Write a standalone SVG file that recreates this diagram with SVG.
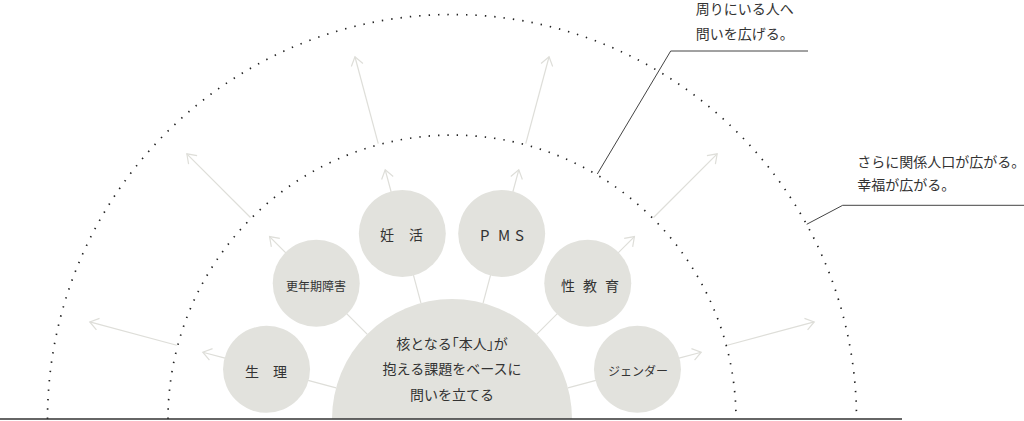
<svg xmlns="http://www.w3.org/2000/svg" width="1024" height="421" viewBox="0 0 1024 421">
  <defs>
    <marker id="arr" markerUnits="userSpaceOnUse" markerWidth="20" markerHeight="20" viewBox="-12 -10 14 20" refX="0" refY="0" orient="auto">
      <path d="M -8.5 -6 L 0 0 L -8.5 6" fill="none" stroke="#deded9" stroke-width="1.2"/>
    </marker>
    <style>
      .bub { fill: #e2e2dd; }
      .ray { stroke: #deded9; stroke-width: 1.2; fill: none; }
      .ar { marker-end: url(#arr); }
      .dots { fill: none; stroke: #222; stroke-width: 1.7; stroke-dasharray: 1.5 8.5; }
      .call { fill: none; stroke: #444; stroke-width: 1; }
      text { font-family: "Noto Sans CJK JP", "Noto Sans", sans-serif; fill: #333; }
      .t14 { font-size: 14px; }
      .t12 { font-size: 12px; }
      .mid { text-anchor: middle; }
      .halt { font-feature-settings: "halt"; }
    </style>
  </defs>
  <rect width="1024" height="421" fill="#ffffff"/>

  <g id="rings">
    <path class="dots" pathLength="950" d="M 168 419 A 284 284 0 0 1 736 419"/>
    <path class="dots" pathLength="1350" d="M 47.5 419 A 404.5 404.5 0 0 1 856.5 419"/>
  </g>

  <g id="connectors">
    <!-- core to bubbles -->
    <line class="ray" x1="336.09" y1="387.94" x2="308.08" y2="380.44"/>
    <line class="ray" x1="367.15" y1="334.15" x2="346.64" y2="313.64"/>
    <line class="ray" x1="420.94" y1="303.09" x2="413.44" y2="275.08"/>
    <line class="ray" x1="483.06" y1="303.09" x2="490.56" y2="275.08"/>
    <line class="ray" x1="536.85" y1="334.15" x2="557.36" y2="313.64"/>
    <line class="ray" x1="567.91" y1="387.94" x2="595.92" y2="380.44"/>
    <!-- bubbles outward -->
    <line class="ray ar" x1="225.01" y1="358.18" x2="202.79" y2="352.22"/>
    <line class="ray ar" x1="285.83" y1="252.83" x2="269.57" y2="236.57"/>
    <line class="ray ar" x1="391.18" y1="192.01" x2="385.22" y2="169.79"/>
    <line class="ray ar" x1="512.82" y1="192.01" x2="518.78" y2="169.79"/>
    <line class="ray ar" x1="618.17" y1="252.83" x2="634.43" y2="236.57"/>
    <line class="ray ar" x1="678.99" y1="358.18" x2="701.21" y2="352.22"/>
    <!-- inner ring outward -->
    <line class="ray ar" x1="176.71" y1="345.24" x2="89.78" y2="321.94"/>
    <line class="ray ar" x1="250.47" y1="217.47" x2="186.83" y2="153.83"/>
    <line class="ray ar" x1="378.24" y1="143.71" x2="354.94" y2="56.78"/>
    <line class="ray ar" x1="525.76" y1="143.71" x2="549.06" y2="56.78"/>
    <line class="ray ar" x1="653.53" y1="217.47" x2="717.17" y2="153.83"/>
    <line class="ray ar" x1="727.29" y1="345.24" x2="814.22" y2="321.94"/>
    <!-- callouts -->
    <polyline class="call" points="597.3,174 670.7,51 808,51"/>
    <polyline class="call" points="806.7,224.3 842.7,205.3 1024,205.3"/>
  </g>

  <g id="core">
    <path class="bub" d="M 332 419 A 120 120 0 0 1 572 419 Z"/>
    <text class="t14 mid halt" x="452" y="348.6">核となる「本人」が</text>
    <text class="t14 mid" x="452" y="374.3">抱える課題をベースに</text>
    <text class="t14 mid" x="452" y="400.3">問いを立てる</text>
  </g>

  <g id="node-seiri">
    <circle class="bub" cx="266.54" cy="369.31" r="43.5"/>
    <text class="t14" x="245 273" y="377">生理</text>
  </g>
  <g id="node-kounenki">
    <circle class="bub" cx="316.24" cy="283.24" r="43.5"/>
    <text class="t12 mid" x="316" y="290.5">更年期障害</text>
  </g>
  <g id="node-ninkatsu">
    <circle class="bub" cx="402.31" cy="233.54" r="43.5"/>
    <text class="t14" x="380 409" y="240">妊活</text>
  </g>
  <g id="node-pms">
    <circle class="bub" cx="501.69" cy="233.54" r="43.5"/>
    <text x="480 498 515" y="240.5" style="font-size:15px">PMS</text>
  </g>
  <g id="node-seikyouiku">
    <circle class="bub" cx="587.76" cy="283.24" r="43.5"/>
    <text class="t14" x="561 583 605" y="291">性教育</text>
  </g>
  <g id="node-gender">
    <circle class="bub" cx="637.46" cy="369.31" r="43.5"/>
    <text class="t12 mid" x="638" y="375.5">ジェンダー</text>
  </g>

  <g id="label-inner">
    <text class="t14" x="695.7" y="14">周りにいる人へ</text>
    <text class="t14" x="695.7" y="38.5">問いを広げる。</text>
  </g>
  <g id="label-outer">
    <text class="t14" x="857.3" y="167">さらに関係人口が広がる。</text>
    <text class="t14" x="857.3" y="189.5">幸福が広がる。</text>
  </g>

  <line id="baseline" x1="0" y1="419" x2="902" y2="419" stroke="#333" stroke-width="1.5"/>
</svg>
